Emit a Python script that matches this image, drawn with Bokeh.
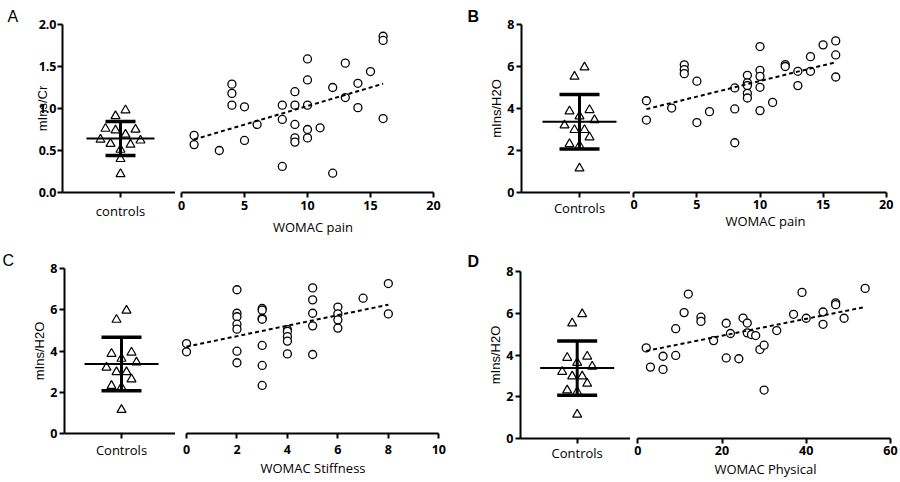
import numpy as np
from bokeh.plotting import figure
from bokeh.layouts import row, column
from bokeh.models import Range1d, FixedTicker, NumeralTickFormatter
from bokeh.embed import file_html
from bokeh.resources import INLINE

# ---------------- data ----------------
ctrl_cr = [0.22, 0.40, 0.51, 0.58, 0.57, 0.63, 0.62, 0.69, 0.76, 0.74, 0.75, 0.91, 0.98]
ctrl_cr_slot = [0, 0, 0, -2, 2, -4, 4, 1, -3, -1, 3, -1, 1]
ctrl_h2o = [5.96, 5.52, 3.87, 3.93, 3.63, 3.45, 3.20, 2.98, 2.98, 2.63, 2.31, 2.23, 1.15]
ctrl_h2o_slot = [1, -1, -2, 2, 0, 3, -3, -1, 1, 2, -2, 0, 0]

a_x = [1, 1, 3, 4, 4, 4, 5, 5, 6, 8, 8, 8, 9, 9, 9, 9, 9, 10, 10, 10, 10, 10, 11, 12, 12, 13, 13, 14, 14, 15, 16, 16, 16]
a_y = [0.68, 0.57, 0.50, 1.29, 1.18, 1.04, 1.02, 0.62, 0.81, 1.04, 0.87, 0.31, 1.20, 1.04, 0.81, 0.65, 0.60,
       1.59, 1.34, 1.04, 0.75, 0.65, 0.77, 1.25, 0.23, 1.54, 1.13, 1.30, 1.01, 1.44, 1.86, 1.81, 0.88]

b_x = [1, 1, 3, 4, 4, 4, 5, 5, 6, 8, 8, 8, 9, 9, 9, 9, 9, 10, 10, 10, 10, 10, 11, 12, 12, 13, 13, 14, 14, 15, 16, 16, 16]
b_y = [4.37, 3.45, 4.02, 6.08, 5.85, 5.66, 5.30, 3.33, 3.85, 4.98, 3.98, 2.37, 5.58, 5.22, 5.09, 4.72, 4.50,
       6.95, 5.82, 5.53, 5.01, 3.90, 4.29, 6.09, 6.00, 5.77, 5.09, 6.47, 5.77, 7.03, 7.22, 6.55, 5.50]

c_x = [0, 0, 2, 2, 2, 2, 2, 2, 2, 3, 3, 3, 3, 3, 3, 3, 4, 4, 4, 4, 4, 5, 5, 5, 5, 5, 6, 6, 6, 6, 7, 8, 8]
c_y = [4.36, 3.96, 6.97, 5.83, 5.66, 5.30, 5.06, 3.99, 3.43, 6.06, 5.98, 5.58, 5.54, 4.27, 3.30, 2.33,
       5.04, 4.95, 4.70, 4.48, 3.86, 7.06, 6.48, 5.83, 5.22, 3.83, 6.13, 5.80, 5.51, 5.11, 6.56, 7.27, 5.80]

d_x = [2, 3, 6, 6, 9, 9, 11, 12, 15, 15, 18, 21, 21, 22, 24, 25, 26, 26, 27, 28, 29, 30, 30, 33, 37, 39, 40,
       44, 44, 47, 47, 49, 54]
d_y = [4.34, 3.42, 3.94, 3.31, 5.26, 3.98, 6.03, 6.92, 5.81, 5.61, 4.69, 5.52, 3.86, 5.03, 3.82, 5.77, 5.53,
       5.06, 4.98, 4.93, 4.26, 4.47, 2.32, 5.17, 5.95, 7.00, 5.76, 6.06, 5.47, 6.50, 6.41, 5.76, 7.19]

cr_ticks = [0, 0.5, 1.0, 1.5, 2.0]
h2o_ticks = [0, 2, 4, 6, 8]
pain_ticks = [0, 5, 10, 15, 20]
stiff_ticks = [0, 2, 4, 6, 8, 10]
phys_ticks = [0, 20, 40, 60]

FONT = "Open Sans"


def style_axis(ax, bold=True, tick_standoff=2, label_standoff=3, label_font=FONT):
    ax.axis_line_width = 2
    ax.axis_line_color = "black"
    ax.major_tick_line_width = 2
    ax.major_tick_line_color = "black"
    ax.major_tick_out = 5
    ax.major_tick_in = 0
    ax.minor_tick_out = 0
    ax.minor_tick_in = 0
    ax.major_label_text_font = FONT
    ax.major_label_text_font_size = "12.5px"
    ax.major_label_text_font_style = "bold" if bold else "normal"
    ax.major_label_text_color = "black"
    ax.major_label_standoff = tick_standoff
    ax.axis_label_text_font = label_font
    ax.axis_label_text_font_size = "13px"
    ax.axis_label_text_font_style = "normal"
    ax.axis_label_text_color = "black"
    ax.axis_label_standoff = label_standoff


def make_fig(width, height, left, top, bottom, xr, yr, yaxis=True):
    p = figure(width=width, height=height, x_range=xr, y_range=yr,
               output_backend="svg", toolbar_location=None, tools="",
               min_border_left=left, min_border_right=0,
               min_border_top=top, min_border_bottom=bottom,
               y_axis_location="left" if yaxis else None)
    p.grid.visible = False
    p.outline_line_color = None
    p.background_fill_color = "white"
    p.border_fill_color = "white"
    return p


def controls_panel(width, height, left, top, bottom, tick_off, vals, slots, yr, yticks, ylabel,
                   xlabel, letter, letter_bold, letter_dx, letter_standoff, fmt=None,
                   mean_hw=37, cap_hw=20, xl_standoff=2, yl_standoff=0, yt_standoff=1):
    frame_w = width - left
    xr = Range1d(-tick_off, frame_w - tick_off)
    p = make_fig(width, height, left, top, bottom, xr, yr)
    xs = [s * 5 for s in slots]
    p.scatter(xs, vals, marker="triangle", size=9, fill_color="white",
              line_color="black", line_width=1.2)
    m = float(np.mean(vals))
    sd = float(np.std(vals, ddof=1))
    p.segment(x0=[-mean_hw], x1=[mean_hw], y0=[m], y1=[m], line_color="black", line_width=2)
    p.segment(x0=[-cap_hw, -cap_hw], x1=[cap_hw, cap_hw], y0=[m - sd, m + sd], y1=[m - sd, m + sd],
              line_color="black", line_width=3.5)
    p.segment(x0=[0], x1=[0], y0=[m - sd], y1=[m + sd], line_color="black", line_width=3)
    xa = p.xaxis[0]
    ya = p.yaxis[0]
    style_axis(xa, bold=False, tick_standoff=xl_standoff)
    xa.ticker = FixedTicker(ticks=[0])
    xa.major_label_overrides = {0: xlabel}
    xa.major_label_text_font_size = "13px"
    style_axis(ya, tick_standoff=yt_standoff, label_standoff=yl_standoff, label_font="Liberation Sans")
    ya.ticker = FixedTicker(ticks=yticks)
    if fmt:
        ya.formatter = NumeralTickFormatter(format=fmt)
    ya.axis_label = ylabel
    # panel letter as the figure title, shifted to the left of the frame
    p.title.text = letter
    p.title.align = "left"
    p.title.offset = letter_dx
    p.title.standoff = letter_standoff
    p.title.text_font = "Liberation Sans"
    p.title.text_font_size = "16px"
    p.title.text_font_style = "bold" if letter_bold else "normal"
    p.title.text_color = "black"
    return p


def scatter_panel(width, height, top, bottom, zero_off, px_per_unit, xs, ys, yr, xticks, xlabel,
                  tick_standoff=2, label_standoff=3):
    xr = Range1d(-zero_off / px_per_unit, (width - zero_off) / px_per_unit)
    p = make_fig(width, height, 0, top, bottom, xr, yr, yaxis=False)
    p.scatter(xs, ys, marker="circle", size=8, fill_color="white", line_color="black", line_width=1.3)
    k, b = np.polyfit(np.array(xs, float), np.array(ys, float), 1)
    x0, x1 = min(xs), max(xs)
    p.line([x0, x1], [k * x0 + b, k * x1 + b], line_color="black", line_width=2, line_dash="4 3")
    xa = p.xaxis[0]
    style_axis(xa, tick_standoff=tick_standoff, label_standoff=label_standoff)
    xa.ticker = FixedTicker(ticks=xticks)
    xa.bounds = (xticks[0], xticks[-1])
    xa.axis_label = xlabel
    return p


# ---------------- panel A ----------------
yr_a = Range1d(0, 2)
pa_c = controls_panel(175, 240, 62, 24, 48, 58, ctrl_cr, ctrl_cr_slot, yr_a, cr_ticks, "mIns/Cr",
                      "controls", "A", False, -55, 0, fmt="0.0", mean_hw=34, cap_hw=15,
                      xl_standoff=4, yl_standoff=-14, yt_standoff=1)
pa_s = scatter_panel(275, 240, 24, 48, 6, 12.6, a_x, a_y, yr_a, pain_ticks, "WOMAC pain",
                     tick_standoff=3, label_standoff=5)

# ---------------- panel B ----------------
yr_b = Range1d(0, 8)
pb_c = controls_panel(180, 240, 71, 24, 48, 58, ctrl_h2o, ctrl_h2o_slot, yr_b, h2o_ticks, "mIns/H2O",
                      "Controls", "B", True, -54, 0, xl_standoff=1, yl_standoff=0, yt_standoff=2)
pb_s = scatter_panel(270, 240, 24, 48, 3.3, 12.62, b_x, b_y, yr_b, pain_ticks, "WOMAC pain",
                     tick_standoff=2, label_standoff=0)

# ---------------- panel C ----------------
yr_c = Range1d(0, 8)
pc_c = controls_panel(175, 242, 64, 28, 49, 57, ctrl_h2o, ctrl_h2o_slot, yr_c, h2o_ticks, "mIns/H2O",
                      "Controls", "C", False, -62, 0, xl_standoff=2, yl_standoff=0, yt_standoff=2)
pc_s = scatter_panel(275, 242, 28, 49, 11, 25.23, c_x, c_y, yr_c, stiff_ticks, "WOMAC Stiffness",
                     tick_standoff=6, label_standoff=2)

# ---------------- panel D ----------------
yr_d = Range1d(0, 8)
pd_c = controls_panel(180, 242, 70, 31, 44, 56.7, ctrl_h2o, ctrl_h2o_slot, yr_d, h2o_ticks, "mIns/H2O",
                      "Controls", "D", True, -53, 4, xl_standoff=0, yl_standoff=0, yt_standoff=2)
pd_s = scatter_panel(270, 242, 31, 44, 7.3, 4.21, d_x, d_y, yr_d, phys_ticks, "WOMAC Physical",
                     tick_standoff=2, label_standoff=2)

left_half = column(row(pa_c, pa_s, spacing=0), row(pc_c, pc_s, spacing=0), spacing=0)
right_half = column(row(pb_c, pb_s, spacing=0), row(pd_c, pd_s, spacing=0), spacing=0)
layout = row(left_half, right_half, spacing=0)

open("out.html", "w").write(file_html(layout, INLINE))
